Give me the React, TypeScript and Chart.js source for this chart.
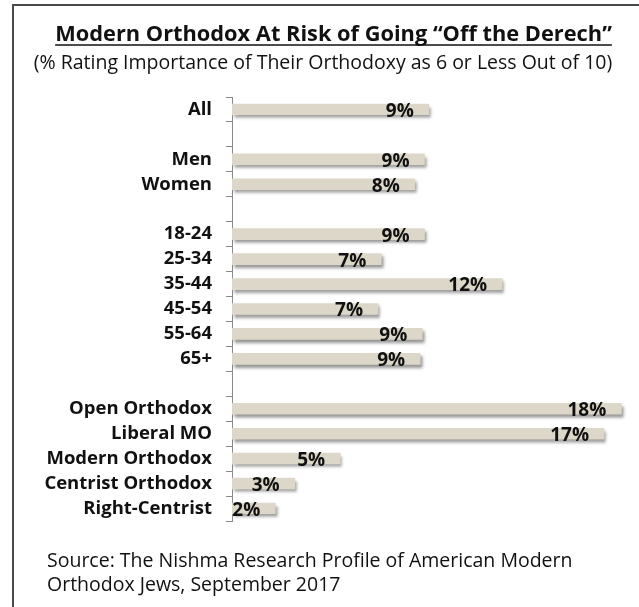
import React, { useEffect, useRef } from "react";
import { Chart, registerables } from "chart.js";

Chart.register(...registerables);

const categories: string[] = [
  "All", "", "Men", "Women", "", "18-24", "25-34", "35-44", "45-54", "55-64", "65+", "",
  "Open Orthodox", "Liberal MO", "Modern Orthodox", "Centrist Orthodox", "Right-Centrist",
];
const values: (number | null)[] = [
  9.1, null, 8.9, 8.45, null, 8.9, 6.9, 12.49, 6.75, 8.8, 8.7, null,
  18.0, 17.2, 5.0, 2.9, 2.0,
];

const titleText = "Modern Orthodox At Risk of Going \u201COff the Derech\u201D";
const subtitleText = "(% Rating Importance of Their Orthodoxy as 6 or Less Out of 10)";
const sourceLines = [
  "Source: The Nishma Research Profile of American Modern",
  "Orthodox Jews, September 2017",
];

const FONT = "'Open Sans', 'Noto Sans', sans-serif";

export default function App() {
  const ref = useRef<HTMLCanvasElement | null>(null);

  useEffect(() => {
    const canvas = ref.current;
    if (!canvas) return;

    const decor = {
      id: "decor",
      beforeDraw(chart: any) {
        const ctx = chart.ctx;
        ctx.save();
        ctx.fillStyle = "#ffffff";
        ctx.fillRect(0, 0, chart.width, chart.height);
        // frame
        ctx.strokeStyle = "#4a4a4a";
        ctx.lineWidth = 2;
        ctx.beginPath();
        ctx.moveTo(13, chart.height);
        ctx.lineTo(13, 5);
        ctx.lineTo(chart.width, 5);
        ctx.stroke();
        // title
        ctx.fillStyle = "#111111";
        ctx.textAlign = "center";
        ctx.textBaseline = "alphabetic";
        ctx.font = `bold 21.8px ${FONT}`;
        const tx = 333.5;
        const ty = 41;
        ctx.fillText(titleText, tx, ty);
        const w = ctx.measureText(titleText).width;
        ctx.strokeStyle = "#111111";
        ctx.lineWidth = 1.6;
        ctx.beginPath();
        ctx.moveTo(tx - w / 2, ty + 4);
        ctx.lineTo(tx + w / 2, ty + 4);
        ctx.stroke();
        // subtitle
        ctx.font = `19.5px ${FONT}`;
        ctx.fillText(subtitleText, 323, 69);
        // source
        ctx.textAlign = "left";
        ctx.font = `19.5px ${FONT}`;
        ctx.fillText(sourceLines[0], 47, 567);
        ctx.fillText(sourceLines[1], 47, 591);
        ctx.restore();
      },
      beforeDatasetDraw(chart: any) {
        const ctx = chart.ctx;
        ctx.save();
        ctx.shadowColor = "rgba(60,60,60,0.55)";
        ctx.shadowOffsetX = 2;
        ctx.shadowOffsetY = 3;
        ctx.shadowBlur = 3;
      },
      afterDatasetDraw(chart: any) {
        chart.ctx.restore();
      },
      afterDatasetsDraw(chart: any) {
        const ctx = chart.ctx;
        const meta = chart.getDatasetMeta(0);
        ctx.save();
        ctx.fillStyle = "#111111";
        ctx.font = `bold 19px ${FONT}`;
        ctx.textAlign = "right";
        ctx.textBaseline = "middle";
        meta.data.forEach((el: any, i: number) => {
          const v = values[i];
          if (v == null) return;
          ctx.fillText(`${Math.round(v)}%`, el.x - 15, el.y + 2);
        });
        ctx.restore();
      },
    };

    const chart = new Chart(canvas, {
      type: "bar",
      data: {
        labels: categories,
        datasets: [
          {
            data: values,
            backgroundColor: "#dcd7c9",
            borderWidth: 0,
            barThickness: 11,
          },
        ],
      },
      options: {
        indexAxis: "y",
        animation: false,
        responsive: false,
        layout: { padding: { top: 97, bottom: 86, right: 9, left: 0 } },
        plugins: {
          legend: { display: false },
          title: { display: false },
          tooltip: { enabled: false },
        },
        scales: {
          x: { display: false, min: 0, max: 18.4 },
          y: {
            afterFit(scale: any) {
              scale.width = 232;
            },
            grid: {
              display: true,
              drawOnChartArea: false,
              drawTicks: true,
              tickLength: 6,
              color: "#8a8a8a",
              offset: true,
            },
            border: { display: true, color: "#8a8a8a", width: 1 },
            ticks: {
              color: "#111111",
              padding: 14,
              autoSkip: false,
              font: { family: FONT, size: 18.5, weight: "bold" },
            },
          },
        },
      },
      plugins: [decor],
    });

    return () => chart.destroy();
  }, []);

  return (
    <div style={{ position: "fixed", left: 0, top: 0, width: 639, height: 607, background: "#fff" }}>
      <canvas ref={ref} width={639} height={607} style={{ display: "block" }} />
    </div>
  );
}
